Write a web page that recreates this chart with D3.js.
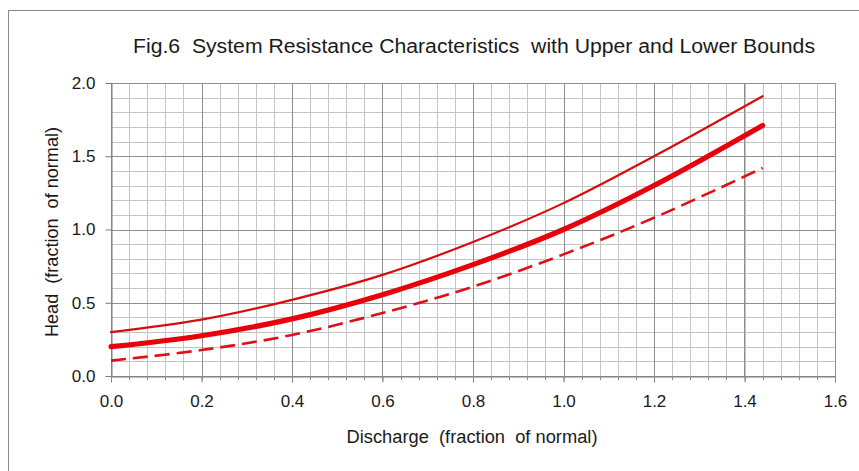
<!DOCTYPE html>
<html>
<head>
<meta charset="utf-8">
<script src="https://cdn.jsdelivr.net/npm/d3@7"></script>
<style>
  html, body { margin: 0; padding: 0; background: #ffffff; }
  svg { display: block; }
  text { font-family: "Liberation Sans", Arial, sans-serif; fill: #1a1a1a; }
</style>
</head>
<body>
<svg id="chart" width="859" height="471"></svg>
<script>
// ---- data ----
const discharge = [0, 0.2, 0.4, 0.6, 0.8, 1.0, 1.2, 1.44];
const headMid   = [0.20, 0.275, 0.39, 0.555, 0.76, 1.00, 1.30, 1.71];
const headUpper = [0.30, 0.385, 0.52, 0.69, 0.915, 1.18, 1.50, 1.91];
const headLower = [0.105, 0.177, 0.28, 0.43, 0.61, 0.83, 1.08, 1.42];
const xTickLabels = ["0.0","0.2","0.4","0.6","0.8","1.0","1.2","1.4","1.6"];
const yTickLabels = ["0.0","0.5","1.0","1.5","2.0"];
const xTickValues = [0, 0.2, 0.4, 0.6, 0.8, 1.0, 1.2, 1.4, 1.6];
const yTickValues = [0, 0.5, 1.0, 1.5, 2.0];
const titleText = "Fig.6  System Resistance Characteristics  with Upper and Lower Bounds";
const xTitle = "Discharge  (fraction  of normal)";
const yTitle = "Head  (fraction  of normal)";

const svg = d3.select("#chart");

// outer chart border (only top & left visible)
svg.append("rect").attr("x", 8.5).attr("y", 10.5).attr("width", 900).attr("height", 600)
  .attr("fill", "#fff").attr("stroke", "#8a8a8a").attr("stroke-width", 1);

const x = d3.scaleLinear().domain([0, 1.6]).range([111, 835]);
const y = d3.scaleLinear().domain([0, 2.0]).range([376, 83]);

const g = svg.append("g");

// minor grid
const xMinor = d3.range(0, 41).map(i => i * 0.04);
const yMinor = d3.range(0, 21).map(i => i * 0.1);
g.selectAll("line.xminor").data(xMinor).enter().append("line")
  .attr("x1", d => Math.round(x(d)) + 0.5).attr("x2", d => Math.round(x(d)) + 0.5)
  .attr("y1", y(0)).attr("y2", y(2))
  .attr("stroke", "#c4c4c4").attr("stroke-width", 1);
g.selectAll("line.yminor").data(yMinor).enter().append("line")
  .attr("y1", d => Math.round(y(d)) + 0.5).attr("y2", d => Math.round(y(d)) + 0.5)
  .attr("x1", x(0)).attr("x2", x(1.6))
  .attr("stroke", "#c4c4c4").attr("stroke-width", 1);
// major grid
g.selectAll("line.xmajor").data(xTickValues).enter().append("line")
  .attr("x1", d => Math.round(x(d)) + 0.5).attr("x2", d => Math.round(x(d)) + 0.5)
  .attr("y1", y(0)).attr("y2", y(2))
  .attr("stroke", "#8e8e8e").attr("stroke-width", 1);
g.selectAll("line.ymajor").data(yTickValues).enter().append("line")
  .attr("y1", d => Math.round(y(d)) + 0.5).attr("y2", d => Math.round(y(d)) + 0.5)
  .attr("x1", x(0)).attr("x2", x(1.6))
  .attr("stroke", "#8e8e8e").attr("stroke-width", 1);

// axes
const xAxis = d3.axisBottom(x).tickValues(xTickValues)
  .tickFormat((d, i) => xTickLabels[i]).tickSize(6).tickSizeOuter(0).tickPadding(12);
const yAxis = d3.axisLeft(y).tickValues(yTickValues)
  .tickFormat((d, i) => yTickLabels[i]).tickSize(6).tickSizeOuter(0).tickPadding(10);

const gx = svg.append("g").attr("transform", `translate(0,${Math.round(y(0)) + 0.5})`).call(xAxis);
const gy = svg.append("g").attr("transform", `translate(${Math.round(x(0)) + 0.5},0)`).call(yAxis);
[gx, gy].forEach(a => {
  a.select(".domain").attr("stroke", "#7a7a7a");
  a.selectAll(".tick line").attr("stroke", "#7a7a7a");
  a.selectAll(".tick text").attr("font-size", 17)
    .attr("font-family", "'Liberation Sans', Arial, sans-serif").attr("fill", "#1a1a1a");
});
// minor x ticks
svg.append("g").selectAll("line").data(xMinor).enter().append("line")
  .attr("x1", d => Math.round(x(d)) + 0.5).attr("x2", d => Math.round(x(d)) + 0.5)
  .attr("y1", Math.round(y(0))).attr("y2", Math.round(y(0)) + 4)
  .attr("stroke", "#8a8a8a");

// lines
const line = d3.line().x(d => x(d[0])).y(d => y(d[1])).curve(d3.curveCatmullRom.alpha(0.5));
const series = [
  { vals: headUpper, w: 2.2, color: "#d80c0c", dash: null },
  { vals: headLower, w: 2.6, color: "#df0f16", dash: "15,7" },
  { vals: headMid, w: 5.2, color: "#e8000b", dash: null }
];
series.forEach(s => {
  svg.append("path")
    .datum(discharge.map((q, i) => [q, s.vals[i]]))
    .attr("d", line).attr("fill", "none")
    .attr("stroke", s.color).attr("stroke-width", s.w)
    .attr("stroke-dasharray", s.dash)
    .attr("stroke-linecap", s.dash ? "butt" : "round");
});

// title
svg.append("text").attr("x", 474).attr("y", 53).attr("text-anchor", "middle")
  .attr("font-size", 20).attr("textLength", 682).attr("lengthAdjust", "spacingAndGlyphs")
  .style("white-space", "pre").text(titleText);

// axis titles
svg.append("text").attr("x", 472).attr("y", 443).attr("text-anchor", "middle")
  .attr("font-size", 18).attr("textLength", 251).attr("lengthAdjust", "spacingAndGlyphs")
  .style("white-space", "pre").text(xTitle);
svg.append("text").attr("transform", "translate(58,232) rotate(-90)").attr("text-anchor", "middle")
  .attr("font-size", 18).attr("textLength", 210).attr("lengthAdjust", "spacingAndGlyphs")
  .style("white-space", "pre").text(yTitle);
</script>
</body>
</html>
